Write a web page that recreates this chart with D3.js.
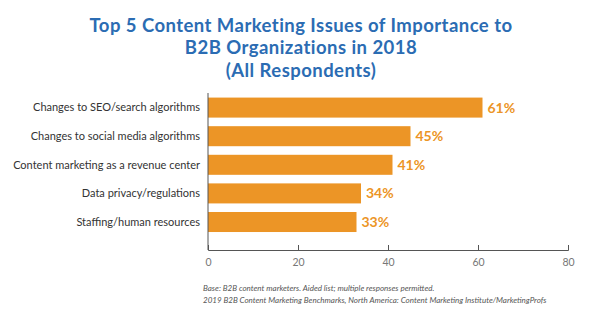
<!DOCTYPE html>
<html>
<head>
<meta charset="utf-8">
<script src="https://cdn.jsdelivr.net/npm/d3@7"></script>
<style>
  body { margin: 0; background: #fff; }
  svg { display: block; }
</style>
</head>
<body>
<script>
var w = 600;
var h = 323;

// survey data
var issues = [
  "Changes to SEO/search algorithms",
  "Changes to social media algorithms",
  "Content marketing as a revenue center",
  "Data privacy/regulations",
  "Staffing/human resources"
];
var percents = [61, 45, 41, 34, 33];
var xTicks = [0, 20, 40, 60, 80];

var titleLines = [
  "Top 5 Content Marketing Issues of Importance to",
  "B2B Organizations in 2018",
  "(All Respondents)"
];
var notes = [
  "Base: B2B content marketers. Aided list; multiple responses permitted.",
  "2019 B2B Content Marketing Benchmarks, North America: Content Marketing Institute/MarketingProfs"
];

var barColor = "#ec9526";
var blue = "#2b6cb3";

var svg = d3.select("body")
  .append("svg")
  .attr("width", w)
  .attr("height", h);

// title, three centred lines
svg.append("g")
  .selectAll("text")
  .data(titleLines)
  .enter()
  .append("text")
  .attr("x", 301)
  .attr("y", function(d, i){ return 32 + i * 22.3; })
  .attr("text-anchor", "middle")
  .style("font-family", "Lato, sans-serif")
  .style("font-weight", "bold")
  .style("font-size", "18.5px")
  .style("letter-spacing", "0.45px")
  .style("fill", blue)
  .text(function(d){ return d; });

var xScale = d3.scaleLinear()
  .domain([0, 80])
  .range([208, 568]);

var yScale = d3.scaleBand()
  .domain(issues)
  .range([93, 236.6])
  .paddingInner(0.3)
  .paddingOuter(0.16);

var data = issues.map(function(d, i){ return {name: d, value: percents[i]}; });

// bars
svg.selectAll("rect.bar")
  .data(data)
  .enter()
  .append("rect")
  .attr("class", "bar")
  .attr("x", xScale(0))
  .attr("y", function(d){ return yScale(d.name); })
  .attr("width", function(d){ return xScale(d.value) - xScale(0); })
  .attr("height", yScale.bandwidth())
  .attr("fill", barColor);

// value labels
svg.selectAll("text.val")
  .data(data)
  .enter()
  .append("text")
  .attr("class", "val")
  .attr("x", function(d){ return xScale(d.value) + 5; })
  .attr("y", function(d){ return yScale(d.name) + yScale.bandwidth() / 2; })
  .attr("dy", "0.36em")
  .style("font-family", "Lato, sans-serif")
  .style("font-weight", "bold")
  .style("font-size", "14px")
  .style("fill", barColor)
  .text(function(d){ return d.value + "%"; });

// category labels
svg.selectAll("text.cat")
  .data(data)
  .enter()
  .append("text")
  .attr("class", "cat")
  .attr("x", 200)
  .attr("y", function(d){ return yScale(d.name) + yScale.bandwidth() / 2; })
  .attr("dy", "0.35em")
  .attr("text-anchor", "end")
  .style("font-family", "Lato, sans-serif")
  .style("font-size", "11px")
  .style("fill", "#333")
  .text(function(d){ return d.name; });

// x axis with short ticks pointing up
var xAxis = d3.axisBottom(xScale)
  .tickValues(xTicks)
  .tickSize(-5)
  .tickPadding(9);

var axisG = svg.append("g")
  .attr("transform", "translate(0,250)")
  .call(xAxis);
axisG.select(".domain").attr("stroke", "#555");
axisG.selectAll(".tick line").attr("stroke", "#555");
axisG.selectAll(".tick text")
  .style("font-family", "Lato, sans-serif")
  .style("font-size", "10.5px")
  .style("fill", "#777");

// vertical baseline
svg.append("line")
  .attr("x1", xScale(0)).attr("x2", xScale(0))
  .attr("y1", 93).attr("y2", 250)
  .attr("stroke", "#555");

// footnotes
svg.selectAll("text.note")
  .data(notes)
  .enter()
  .append("text")
  .attr("class", "note")
  .attr("x", 203)
  .attr("y", function(d, i){ return 291 + i * 12; })
  .style("font-family", "Lato, sans-serif")
  .style("font-style", "italic")
  .style("font-size", "8px")
  .style("fill", "#555")
  .text(function(d){ return d; });
</script>
</body>
</html>
